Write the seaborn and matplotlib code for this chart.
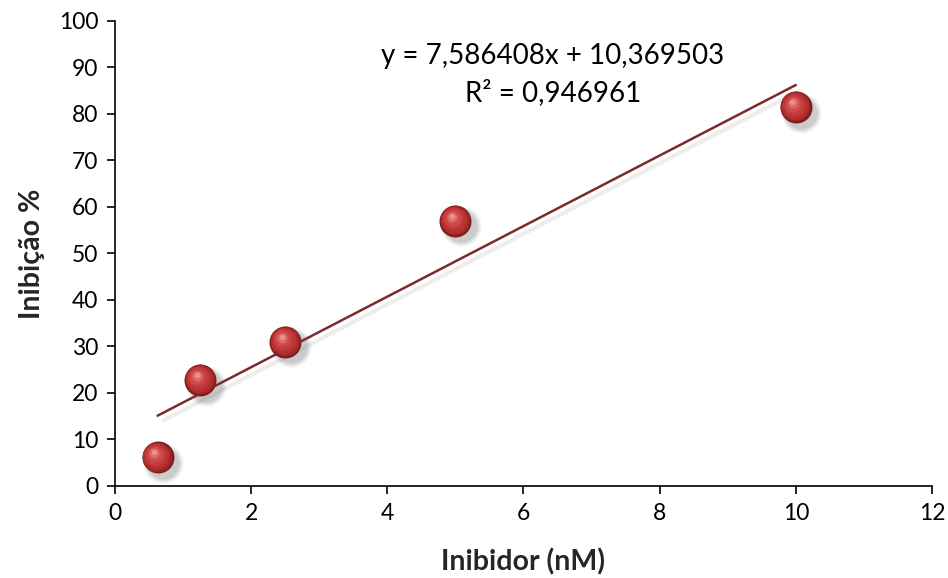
import numpy as np
import pandas as pd
import matplotlib
matplotlib.use("Agg")
import matplotlib.pyplot as plt
import matplotlib.transforms as mtransforms
import seaborn as sns

# Measured inhibition vs inhibitor concentration
inhibitor_nM = [0.625, 1.25, 2.5, 5.0, 10.0]
inhibition_pct = [6.2, 22.8, 31.0, 57.0, 81.5]

# Linear trendline reported on the chart
slope = 7.586408
intercept = 10.369503
r_squared = 0.946961

x_ticks = [0, 2, 4, 6, 8, 10, 12]
y_ticks = [0, 10, 20, 30, 40, 50, 60, 70, 80, 90, 100]

df = pd.DataFrame({"x": inhibitor_nM, "y": inhibition_pct})
trend_x = [min(inhibitor_nM), max(inhibitor_nM)]
trend = pd.DataFrame({"x": trend_x, "y": [slope * v + intercept for v in trend_x]})

sns.set_theme(style="white")
plt.rcParams["font.family"] = ["Lato", "DejaVu Sans"]

fig = plt.figure(figsize=(9.48, 5.78), dpi=100)
ax = fig.add_axes([0.1213, 0.1592, 0.8618, 0.8045])

# Trendline with a soft shadow
shadow_tr = mtransforms.offset_copy(ax.transData, fig=fig, x=3, y=-4, units="points")
ax.plot(trend["x"], trend["y"], color="#dddddd", lw=3, alpha=0.5,
        transform=shadow_tr, zorder=1, solid_capstyle="butt")
sns.lineplot(data=trend, x="x", y="y", ax=ax, color="#7b2b2b", lw=1.8, zorder=2)

# Sphere markers: blurred drop shadow, then a radial shading stack
base = 530
for grow, a in [(1.6, 0.05), (1.4, 0.07), (1.2, 0.09), (1.0, 0.12)]:
    tr = mtransforms.offset_copy(ax.transData, fig=fig, x=4, y=-4, units="points")
    ax.scatter(df["x"], df["y"], s=base * grow, color="#555555", alpha=a,
               linewidths=0, transform=tr, zorder=3)

sns.scatterplot(data=df, x="x", y="y", ax=ax, s=base, color="#7e1c1c",
                linewidth=0, zorder=4, legend=False)
shades = [(0.86, "#9a2626", -0.4, 0.4), (0.72, "#ac2e2e", -0.8, 0.8),
          (0.56, "#bb3434", -1.2, 1.3), (0.40, "#c63c3c", -1.6, 1.8),
          (0.24, "#d04a4a", -2.0, 2.4), (0.10, "#dc6a6a", -2.3, 3.0),
          (0.03, "#e89090", -2.5, 3.4)]
for frac, col, dx, dy in shades:
    tr = mtransforms.offset_copy(ax.transData, fig=fig, x=dx, y=dy, units="points")
    ax.scatter(df["x"], df["y"], s=base * frac, color=col, linewidths=0,
               transform=tr, zorder=5)

ax.set_xlim(0, 12)
ax.set_ylim(0, 100)
ax.set_xticks(x_ticks)
ax.set_yticks(y_ticks)
ax.set_xticklabels([str(v) for v in x_ticks])
ax.set_yticklabels([str(v) for v in y_ticks])
ax.tick_params(axis="both", which="major", direction="out", length=6, width=1.2,
               color="black", labelsize=16.5, labelcolor="black", pad=6,
               bottom=True, left=True)
for side in ("top", "right"):
    ax.spines[side].set_visible(False)
for side in ("left", "bottom"):
    ax.spines[side].set_color("black")
    ax.spines[side].set_linewidth(1.2)

ax.set_xlabel("Inibidor (nM)", fontsize=20.5, fontweight="bold", labelpad=18)
ax.set_ylabel("Inibição %", fontsize=20.5, fontweight="bold", labelpad=10)

eq_text = ("y = " + f"{slope:.6f}".replace(".", ",") + "x + "
           + f"{intercept:.6f}".replace(".", ","))
r2_text = "R² = " + f"{r_squared:.6f}".replace(".", ",")
ax.text(6.43, 92.5, eq_text, ha="center", va="center", fontsize=20, color="black")
ax.text(6.43, 84.5, r2_text, ha="center", va="center", fontsize=20, color="black")

fig.savefig("out.png", dpi=100, facecolor="white")
